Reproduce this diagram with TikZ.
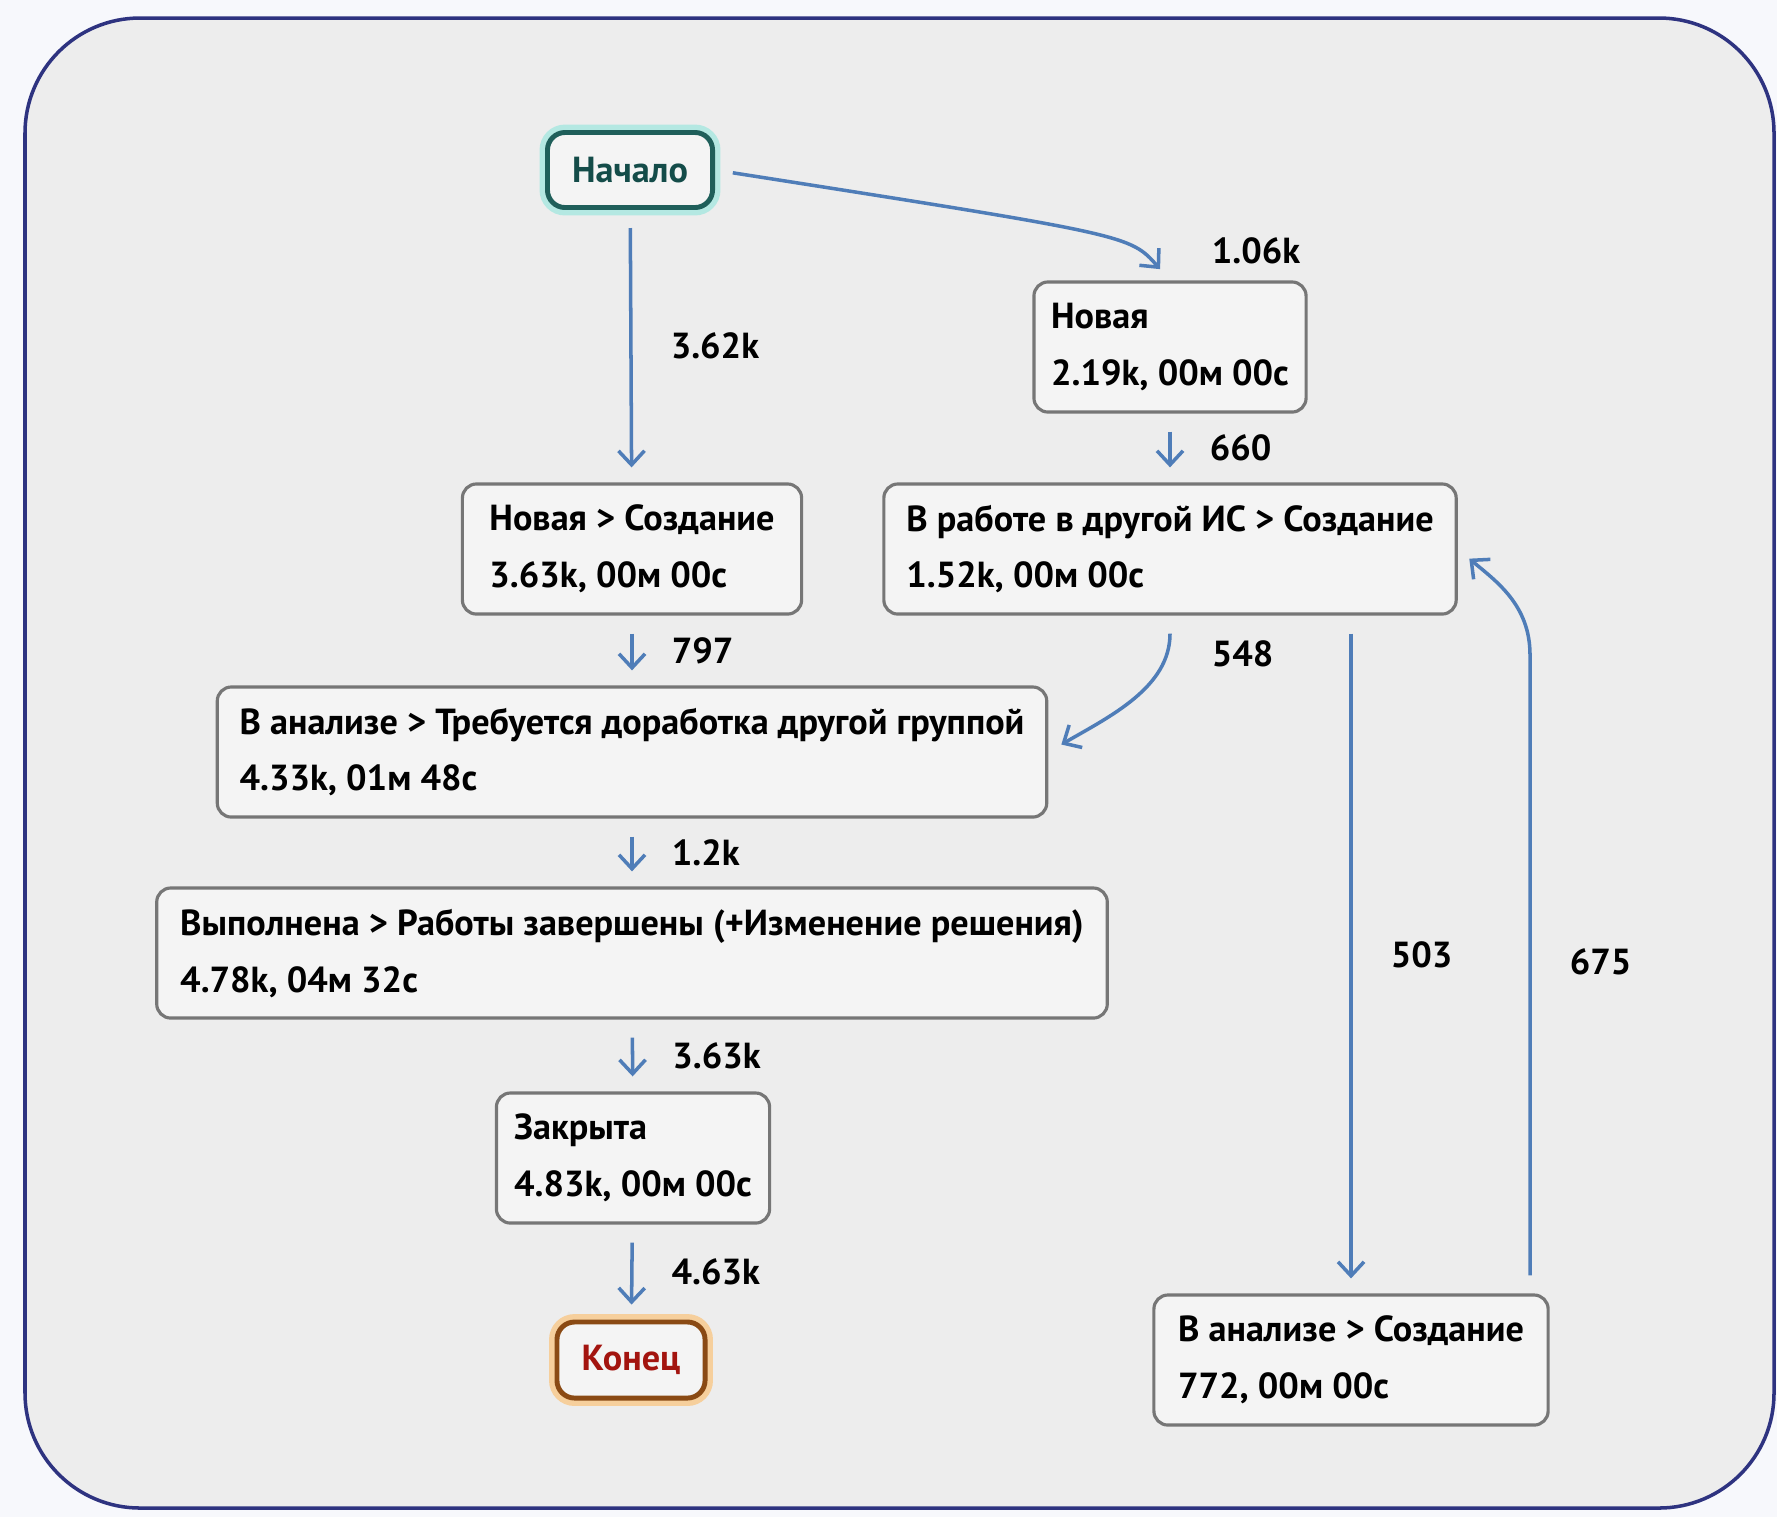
\documentclass[tikz,border=0pt]{standalone}
\usepackage{fontspec}
\setmainfont{PT Sans}
\usepackage{tikz}
\usetikzlibrary{arrows.meta,positioning}

\definecolor{pagebg}{HTML}{F7F8FC}
\definecolor{panelbg}{HTML}{EDEDED}
\definecolor{framecol}{HTML}{2E3380}
\definecolor{boxfill}{HTML}{F4F4F4}
\definecolor{boxline}{HTML}{767676}
\definecolor{flowcol}{HTML}{4F7DB8}
\definecolor{startline}{HTML}{1F5F5A}
\definecolor{startglow}{HTML}{B4E8E2}
\definecolor{starttext}{HTML}{144C49}
\definecolor{endline}{HTML}{8A4A14}
\definecolor{endglow}{HTML}{F6CF9C}
\definecolor{endtext}{HTML}{A3140F}

\begin{document}
\begin{tikzpicture}[x=0.01cm, y=-0.01cm,
  txt/.style={font=\bfseries\fontsize{10.3pt}{16.2pt}\selectfont},
  state/.style={txt, draw=boxline, fill=boxfill, line width=0.9pt, rounded corners=4pt,
    align=left, inner xsep=0.1cm, minimum height=1.3cm},
  term/.style={txt, fill=boxfill, line width=1.4pt, rounded corners=5pt, align=center},
  flow/.style={draw=flowcol, line width=1pt, -{Straight Barb[length=0.14cm,width=0.26cm]},
    shorten <=0.18cm, shorten >=0.15cm},
  lbl/.style={txt, inner sep=2pt}]
  \fill[pagebg] (0,0) rectangle (1777,1517);
  \draw[framecol, fill=panelbg, line width=1pt, rounded corners=1.15cm] (25,18) rectangle (1774,1508);

  \node[term, draw=startline, text=starttext, preaction={draw=startglow, line width=4.5pt},
    minimum width=1.65cm, minimum height=0.75cm] (start) at (630,170) {Начало};
  \node[state, minimum width=2.72cm] (nst) at (1170,347) {Новая\\2.19k, 00м 00с};
  \node[state, minimum width=3.39cm] (ns) at (632,549) {Новая > Создание\\3.63k, 00м 00с};
  \node[state, minimum width=5.72cm] (wrk) at (1170,549) {В работе в другой ИС > Создание\\1.52k, 00м 00с};
  \node[state, minimum width=8.29cm] (anl) at (632,752) {В анализе > Требуется доработка другой группой\\4.33k, 01м 48с};
  \node[state, minimum width=9.50cm] (done) at (632,953) {Выполнена > Работы завершены (+Изменение решения)\\4.78k, 04м 32с};
  \node[state, minimum width=2.73cm] (closed) at (633,1158) {Закрыта\\4.83k, 00м 00с};
  \node[term, draw=endline, text=endtext, preaction={draw=endglow, line width=4.5pt},
    minimum width=1.48cm, minimum height=0.76cm] (ender) at (631,1360) {Конец};
  \node[state, minimum width=3.94cm] (ancr) at (1351,1360) {В анализе > Создание\\772, 00м 00с};
  \coordinate (bend) at (1530,655);

  \draw[flow] (start) -- node[lbl, right=0.31cm] {3.62k} (ns);
  \draw[flow] (start.east) .. controls (1130,235) ..
    node[lbl, pos=1, anchor=west, xshift=0.33cm, yshift=0.3cm] {1.06k} (nst.north);
  \draw[flow] (nst) -- node[lbl, right=0.31cm] {660} (wrk);
  \draw[flow] (ns) -- node[lbl, right=0.31cm] {797} (anl);
  \draw[flow] (wrk.south) to[out=-90, in=30]
    node[lbl, pos=0, anchor=west, xshift=0.33cm, yshift=-0.38cm] {548} (anl.east);
  \draw[flow] (anl) -- node[lbl, right=0.31cm] {1.2k} (done);
  \draw[flow] (done) -- node[lbl, right=0.31cm] {3.63k} (closed);
  \draw[flow] (closed) -- node[lbl, right=0.31cm] {4.63k} (ender);
  \draw[flow] (ancr.north |- wrk.south) -- node[lbl, right=0.31cm] {503} (ancr.north);
  \draw[flow] (ancr.north -| bend) -- node[lbl, pos=0.52, right=0.31cm] {675} (bend)
    to[out=90, in=-40] (wrk.east);
\end{tikzpicture}
\end{document}
